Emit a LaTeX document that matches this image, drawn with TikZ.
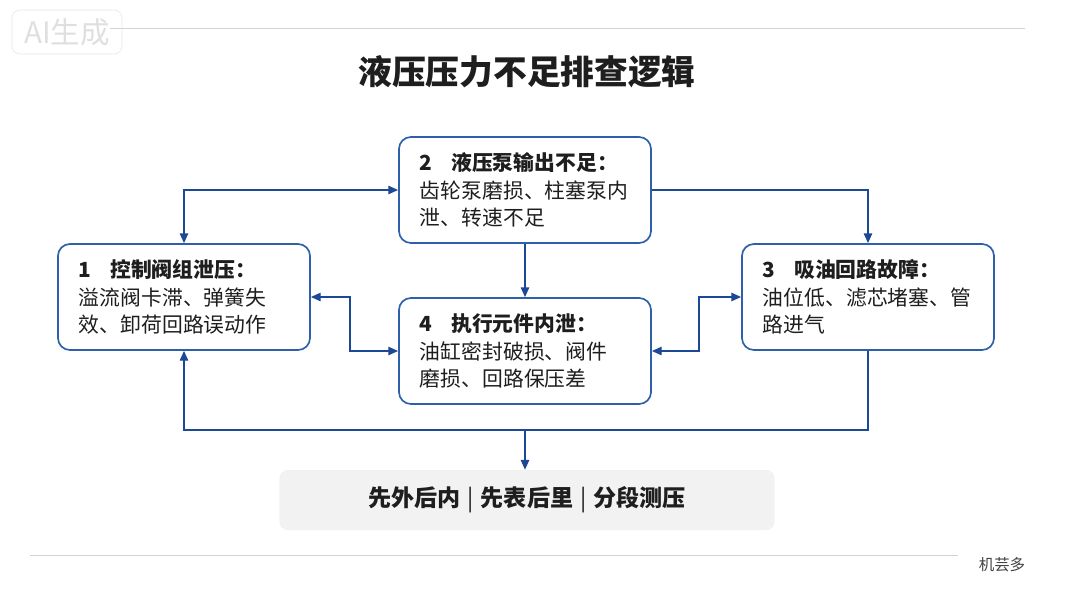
\documentclass[tikz,border=0pt]{standalone}
\usepackage{fontspec}
\setmainfont{Noto Sans CJK SC}
\usetikzlibrary{arrows.meta,positioning}
\definecolor{boxblue}{RGB}{45,95,170}
\definecolor{linkblue}{RGB}{28,72,150}
\definecolor{inktext}{RGB}{30,30,30}
\definecolor{barfill}{RGB}{242,242,242}
\definecolor{rulegray}{RGB}{210,210,210}

\begin{document}
\begin{tikzpicture}[x=0.025cm, y=-0.025cm,
  >={Triangle[length=7pt,width=6pt]},
  causebox/.style={draw=boxblue, line width=1.2pt, rounded corners=0.3cm, fill=white,
    minimum width=6.3cm, minimum height=2.65cm, text width=5.25cm, inner xsep=0.525cm,
    align=left, text=inktext, font=\fontsize{14.8}{19.6}\selectfont},
  link/.style={draw=linkblue, line width=1pt},
  rulebar/.style={fill=barfill, rounded corners=0.2cm, minimum width=12.375cm,
    minimum height=1.5cm, text=inktext, font=\bfseries\fontsize{16.4}{20}\selectfont}]
  \useasboundingbox (0,0) rectangle (1066,593);

  % Header and footer
  \draw[rulegray, line width=0.6pt] (110,28) -- (1025,28);
  \node[draw=gray!20, rounded corners=0.2cm, minimum width=2.75cm, minimum height=1.1cm,
    text=gray!25, font=\fontsize{21}{24}\selectfont] (mark) at (67,32) {AI生成};
  \node[font=\bfseries\fontsize{24}{28}\selectfont, text=inktext] (title) at (527,72) {液压压力不足排查逻辑};
  \draw[rulegray, line width=0.6pt] (30,555) -- (958,555);
  \node[font=\fontsize{11}{13}\selectfont, text=inktext!85] (brand) at (1002,565) {机芸多};

  % Cause boxes
  \node[causebox] (b1) at (184,297) {{\bfseries 1\hspace{0.9em}控制阀组泄压：}\\溢流阀卡滞、弹簧失\\效、卸荷回路误动作};
  \node[causebox] (b2) at (525,190) {{\bfseries 2\hspace{0.9em}液压泵输出不足：}\\齿轮泵磨损、柱塞泵内\\泄、转速不足};
  \node[causebox] (b3) at (868,297) {{\bfseries 3\hspace{0.9em}吸油回路故障：}\\油位低、滤芯堵塞、管\\路进气};
  \node[causebox] (b4) at (525,351) {{\bfseries 4\hspace{0.9em}执行元件内泄：}\\油缸密封破损、阀件\\磨损、回路保压差};

  % Summary bar
  \node[rulebar] (rule) at (527,500) {先外后内{\mdseries\hspace{0.3em}|\hspace{0.3em}}先表后里{\mdseries\hspace{0.3em}|\hspace{0.3em}}分段测压};

  % Connectors
  \draw[link, <->] (b1.north) |- (b2.west);
  \draw[link, ->] (b2.east) -| (b3.north);
  \draw[link, ->] (b2.south) -- (b4.north);
  \draw[link, <->] (b1.east) -- ++(39,0) |- (b4.west);
  \draw[link, <->] (b4.east) -- ++(47,0) |- (b3.west);
  \coordinate (fork) at (525,430);
  \draw[link, ->] (b3.south) |- (fork) -| (b1.south);
  \draw[link, ->] (fork) -- (fork |- rule.north);
\end{tikzpicture}
\end{document}
